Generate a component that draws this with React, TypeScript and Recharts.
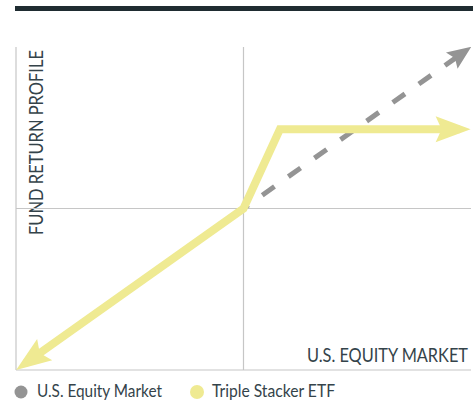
import { LineChart, Line, XAxis, YAxis, ReferenceLine } from "recharts";

// payoff profile: market 1:1, fund 3x up to a cap
const marketX = [0, 0.98];
const marketY = [0, 0.98];
const tripleX = [-0.96, 0, 0.16, 0.95];
const tripleY = [-0.96, 0, 0.49, 0.49];
const gridValues = [-1, 0];

const xLabel = "U.S. EQUITY MARKET";
const yLabel = "FUND RETURN PROFILE";
const seriesNames = ["U.S. Equity Market", "Triple Stacker ETF"];

const GRAY = "#949494";
const YELLOW = "#efea92";
const GRID = "#c6c6c6";
const TEXT = "#34434a";

const marketData = marketX.map((x, i) => ({ x, y: marketY[i] }));
const tripleData = tripleX.map((x, i) => ({ x, y: tripleY[i] }));

type ArrowOpts = { color: string; len: number; half: number; ext: number; notch: number; start?: boolean; end?: boolean };

// arrow head drawn on first/last dot, pointing away from the neighbour point
function arrowDot(o: ArrowOpts) {
  return (props: any) => {
    const { cx, cy, index, points } = props;
    const n = points ? points.length : 0;
    let from: any = null;
    if (o.end && index === n - 1) from = points[index - 1];
    if (o.start && index === 0) from = points[1];
    if (!from || cx == null) return <g key={`dot-${index}`} />;
    let ux = cx - from.x;
    let uy = cy - from.y;
    const d = Math.hypot(ux, uy) || 1;
    ux /= d;
    uy /= d;
    const tx = cx + ux * o.ext;
    const ty = cy + uy * o.ext;
    const bx = tx - ux * o.len;
    const by = ty - uy * o.len;
    const nx = -uy;
    const ny = ux;
    const pts = [
      [tx, ty],
      [bx + nx * o.half, by + ny * o.half],
      [bx + ux * o.notch, by + uy * o.notch],
      [bx - nx * o.half, by - ny * o.half],
    ]
      .map((p) => p.join(","))
      .join(" ");
    return <polygon key={`dot-${index}`} points={pts} fill={o.color} />;
  };
}

export default function App() {
  return (
    <div style={{ position: "relative", width: 473, height: 402 }}>
      <style>{`body{margin:0}`}</style>
      <LineChart
        width={473}
        height={402}
        margin={{ top: 47, right: 2, bottom: 32, left: 16 }}
      >
        <XAxis type="number" dataKey="x" domain={[-1, 1]} hide allowDataOverflow />
        <YAxis type="number" dataKey="y" domain={[-1, 1]} hide allowDataOverflow />
        {gridValues.map((v) => (
          <ReferenceLine key={`x${v}`} x={v} stroke={GRID} strokeWidth={1.2} ifOverflow="visible" />
        ))}
        {gridValues.map((v) => (
          <ReferenceLine key={`y${v}`} y={v} stroke={GRID} strokeWidth={1.2} ifOverflow="visible" />
        ))}
        <Line
          data={marketData}
          dataKey="y"
          type="linear"
          stroke={GRAY}
          strokeWidth={5}
          strokeDasharray="15 17"
          strokeDashoffset={9}
          dot={arrowDot({ color: GRAY, len: 24, half: 10, ext: 6, notch: 4, end: true })}
          activeDot={false}
          isAnimationActive={false}
        />
        <Line
          data={tripleData}
          dataKey="y"
          type="linear"
          stroke={YELLOW}
          strokeWidth={8}
          strokeLinejoin="miter"
          dot={arrowDot({ color: YELLOW, len: 35, half: 13, ext: 11, notch: 6, start: true, end: true })}
          activeDot={false}
          isAnimationActive={false}
        />
        <rect x={15} y={6} width={458} height={5} fill="#1f2c31" />
        <text
          x={43}
          y={235}
          transform="rotate(-90 43 235)"
          fontFamily="Lato, sans-serif"
          fontSize={19}
          fill={TEXT}
          textLength={185}
          lengthAdjust="spacingAndGlyphs"
        >
          {yLabel}
        </text>
        <text
          x={468}
          y={362}
          textAnchor="end"
          fontFamily="Lato, sans-serif"
          fontSize={19}
          fill={TEXT}
          textLength={161}
          lengthAdjust="spacingAndGlyphs"
        >
          {xLabel}
        </text>
        <circle cx={21} cy={392} r={6.5} fill={GRAY} />
        <text
          x={37}
          y={397}
          fontFamily="Lato, sans-serif"
          fontSize={17}
          fill={TEXT}
          textLength={125}
          lengthAdjust="spacingAndGlyphs"
        >
          {seriesNames[0]}
        </text>
        <circle cx={197} cy={392} r={7} fill={YELLOW} />
        <text
          x={212}
          y={397}
          fontFamily="Lato, sans-serif"
          fontSize={17}
          fill={TEXT}
          textLength={123}
          lengthAdjust="spacingAndGlyphs"
        >
          {seriesNames[1]}
        </text>
      </LineChart>
    </div>
  );
}
